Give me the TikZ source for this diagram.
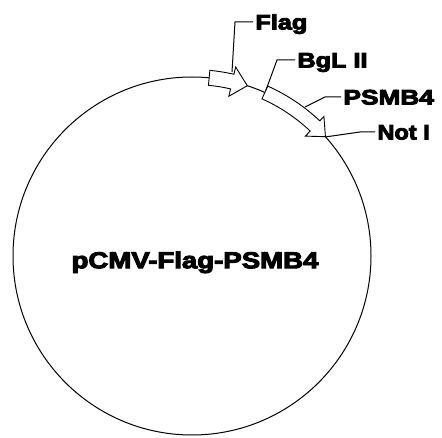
\documentclass[tikz,border=0pt]{standalone}
\usepackage{fontspec}
\newfontfamily\heavyfont{Liberation Sans}[BoldFeatures={FakeBold=4}]
\usetikzlibrary{calc}

\begin{document}
\begin{tikzpicture}[x=1pt,y=1pt,line width=1pt,
  sitelabel/.style={font=\heavyfont\bfseries\fontsize{21}{24}\selectfont,anchor=west,inner sep=2pt,text height=15pt,text depth=0pt},
  blockarrow/.style={fill=white,line width=0.9pt}]

\useasboundingbox (0,0) rectangle (442,437);
\coordinate (c) at (192,181);

% plasmid circle
\draw (c) circle[radius=179];

% Flag arrow
\draw[blockarrow] ($(c)+(84.5:186.5)$) arc[start angle=84.5, end angle=77, radius=186.5] -- ($(c)+(77:194)$) -- ($(c)+(72:179)$) -- ($(c)+(77:164)$) -- ($(c)+(77:171.5)$) arc[start angle=77, end angle=84.5, radius=171.5] -- cycle;

% PSMB4 arrow
\draw[blockarrow] ($(c)+(66:186)$) arc[start angle=66, end angle=46.6, radius=186] -- ($(c)+(46.6:192)$) -- ($(c)+(41.8:179)$) -- ($(c)+(46.6:165)$) -- ($(c)+(46.6:172)$) arc[start angle=46.6, end angle=66, radius=172] -- cycle;

% labels
\node[sitelabel] (flag) at (253,415) {\scalebox{1.2}[1]{Flag}};
\node[sitelabel] (bgl) at (295,377) {\scalebox{1.2}[1]{BgL II}};
\node[sitelabel] (psmb) at (341,340) {\scalebox{1.25}[1]{PSMB4}};
\node[sitelabel] (noti) at (375,305) {\scalebox{1.12}[1]{Not I}};
\node[font=\heavyfont\bfseries\fontsize{23}{26}\selectfont,text height=16.5pt,text depth=0pt,inner sep=0pt] (name) at (195,177) {\scalebox{1.2}[1]{pCMV-Flag-PSMB4}};

% leader lines
\coordinate (flagfoot) at (232,365);
\coordinate (bglfoot) at (266,347);
\coordinate (psmbfoot) at (305,330);
\coordinate (notifoot) at (325,300);
\draw (flagfoot) -- ++(3,50) -- (flag.west);
\draw (bglfoot) -- ++(11,30) -- (bgl.west);
\draw (psmbfoot) -- ++(20,10) -- (psmb.west);
\draw (notifoot) -- ++(35,5) -- (noti.west);

\end{tikzpicture}
\end{document}
